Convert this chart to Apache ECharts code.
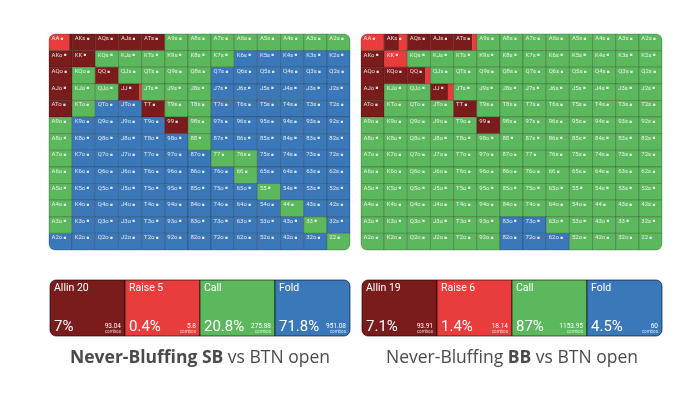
<!DOCTYPE html>
<html>
<head>
<meta charset="utf-8">
<script src="https://cdn.jsdelivr.net/npm/echarts@6/dist/echarts.min.js"></script>
<style>
    html, body { margin: 0; padding: 0; background: #fff; }
    #main { width: 700px; height: 405px; }
</style>
</head>
<body>
<div id="main"></div>
<script>
// 手牌行列 (A..2)
const ranks = ['A', 'K', 'Q', 'J', 'T', '9', '8', '7', '6', '5', '4', '3', '2']
// A = allin, R = raise, C = call, F = fold, M = mixed
const sbRows = [
    'MAAAACCCCCCCC',
    'AACCCCCCFFFFF',
    'ACACCCCFFFFFF',
    'ACCMCCCFFFFFF',
    'ACFFACCFFFFFF',
    'CFFFFACFFFFFF',
    'CFFFFFCFFFFFF',
    'CFFFFFFCCFFFF',
    'CFFFFFFFCFFFF',
    'CFFFFFFFFCFFF',
    'CFFFFFFFFFCFF',
    'CFFFFFFFFFFCF',
    'FFFFFFFFFFFFC'
]
const bbRows = [
    'RMAAMCCCCCCCC',
    'ARCCCCCCCCCCC',
    'AAMCCCCCCCCCC',
    'ACCMCCCCCCCCC',
    'ACCCACCCCCCCC',
    'CCCCCACCCCCCC',
    'CCCCCCCCCCCCC',
    'CCCCCCCCCCCCC',
    'CCCCCCCCCCCCC',
    'CCCCCCCCCCCCC',
    'CCCCCCCCCCCCC',
    'CCCCCCFFCCCCC',
    'CCCCCCFFFCCCC'
]
// 混合策略 [动作, 比例]
const sbMixed = {
    AA: [['R', 0.87], ['A', 0.13]],
    JJ: [['A', 0.9], ['R', 0.1]]
}
const bbMixed = {
    AKs: [['A', 0.63], ['R', 0.37]],
    ATs: [['A', 0.8], ['R', 0.2]],
    QQ: [['A', 0.78], ['R', 0.22]],
    JJ: [['A', 0.75], ['R', 0.25]]
}

// 底部汇总
const actionCodes = ['A', 'R', 'C', 'F']
const sbLabels = ['Allin 20', 'Raise 5', 'Call', 'Fold']
const sbPct = [7, 0.4, 20.8, 71.8]
const sbCombos = ['93.04', '5.8', '275.88', '951.08']
const bbLabels = ['Allin 19', 'Raise 6', 'Call', 'Fold']
const bbPct = [7.1, 1.4, 87, 4.5]
const bbCombos = ['93.91', '18.14', '1153.95', '60']

const colors = { A: '#7b1c1c', R: '#e93d3d', C: '#5cb85c', F: '#3a78b9' }
const FONT = 'Roboto'

const handName = (r, c) => {
    if (r === c) return ranks[r] + ranks[c]
    if (c > r) return ranks[r] + ranks[c] + 's'
    return ranks[c] + ranks[r] + 'o'
}

const makeCellRender = (rows, mixed) => (params, api) => {
    const c = api.value(0)
    const r = api.value(1)
    const ctr = api.coord([c, r])
    const sz = api.size([1, 1])
    const w = sz[0], h = sz[1]
    const x = ctr[0] - w / 2, y = ctr[1] - h / 2
    const R = 6
    const rad = [
        c === 0 && r === 0 ? R : 0,
        c === 12 && r === 0 ? R : 0,
        c === 12 && r === 12 ? R : 0,
        c === 0 && r === 12 ? R : 0
    ]
    const name = handName(r, c)
    const code = rows[r][c]
    const segs = code === 'M' ? mixed[name] : [[code, 1]]
    const children = []
    let sx = x
    segs.forEach((s, i) => {
        const sw = w * s[1]
        const first = i === 0, last = i === segs.length - 1
        children.push({
            type: 'rect',
            shape: { x: sx, y, width: sw + (last ? 0 : 0.3), height: h, r: [first ? rad[0] : 0, last ? rad[1] : 0, last ? rad[2] : 0, first ? rad[3] : 0] },
            style: { fill: colors[s[0]] }
        })
        sx += sw
    })
    children.push({
        type: 'rect',
        shape: { x, y, width: w, height: h, r: rad },
        style: { fill: 'none', stroke: 'rgba(0,0,0,0.28)', lineWidth: 0.8 }
    })
    children.push({
        type: 'text',
        style: {
            text: '{t|' + name + '} {d|\u25A0}',
            x: x + 2.5,
            y: y + 4.5,
            fill: 'rgba(255,255,255,0.85)',
            fontSize: 6,
            fontFamily: FONT,
            align: 'left',
            verticalAlign: 'middle',
            rich: {
                t: { fontSize: 6, fontFamily: FONT, fill: 'rgba(255,255,255,0.85)' },
                d: { fontSize: 4.5, fontFamily: FONT, fill: 'rgba(255,255,255,0.85)' }
            }
        }
    })
    return { type: 'group', children }
}

const makeBarRender = (labels, pcts, combos) => (params, api) => {
    const i = api.value(0)
    const top = api.coord([i, 1])
    const bot = api.coord([i, 0])
    const w = api.size([1, 0])[0]
    const x = top[0] - w / 2, y = top[1], h = bot[1] - top[1]
    const R = 6
    const r = i === 0 ? [R, 0, 0, R] : i === 3 ? [0, R, R, 0] : 0
    return {
        type: 'group',
        children: [
            {
                type: 'rect',
                shape: { x, y, width: w, height: h, r },
                style: { fill: colors[actionCodes[i]], stroke: 'rgba(0,0,0,0.6)', lineWidth: 1 }
            },
            {
                type: 'text',
                style: { text: labels[i], x: x + 4, y: y + 8.5, fill: '#fff', fontSize: 10.5, fontFamily: FONT, verticalAlign: 'middle' }
            },
            {
                type: 'text',
                style: { text: pcts[i] + '%', x: x + 4, y: y + h - 8.5, fill: '#fff', fontSize: 15, fontFamily: FONT, verticalAlign: 'middle' }
            },
            {
                type: 'text',
                style: { text: combos[i], x: x + w - 4, y: y + h - 9.5, fill: '#fff', fontSize: 6.5, fontFamily: FONT, align: 'right', verticalAlign: 'middle' }
            },
            {
                type: 'text',
                style: { text: 'combos', x: x + w - 4, y: y + h - 4, fill: 'rgba(255,255,255,0.75)', fontSize: 4.5, fontFamily: FONT, align: 'right', verticalAlign: 'middle' }
            }
        ]
    }
}

const cellData = []
for (let r = 0; r < 13; r++) {
    for (let c = 0; c < 13; c++) cellData.push([c, r])
}
const barData = actionCodes.map((a, i) => [i, 1])

const hiddenCat = (gridIndex, data, inverse) => ({ gridIndex, type: 'category', data, inverse: !!inverse, show: false })
const hiddenVal = gridIndex => ({ gridIndex, type: 'value', min: 0, max: 1, show: false })

const titleRich = {
    n: { fontSize: 17.5, color: '#4a4a4a', fontFamily: 'Open Sans', fontWeight: 'normal' },
    b: { fontSize: 17.5, color: '#4a4a4a', fontFamily: 'Open Sans', fontWeight: 'bold' }
}

const option = {
    backgroundColor: '#fff',
    animation: false,
    title: [
        {
            text: '{b|Never-Bluffing SB}{n| vs BTN open}',
            left: 200,
            top: 349,
            textAlign: 'center',
            padding: 0,
            textStyle: { fontWeight: 'normal', rich: titleRich }
        },
        {
            text: '{n|Never-Bluffing }{b|BB}{n| vs BTN open}',
            left: 512,
            top: 349,
            textAlign: 'center',
            padding: 0,
            textStyle: { fontWeight: 'normal', rich: titleRich }
        }
    ],
    grid: [
        { left: 49, top: 34, width: 301, height: 216 },
        { left: 361, top: 34, width: 301, height: 216 },
        { left: 50, top: 280, width: 300, height: 56 },
        { left: 362, top: 280, width: 300, height: 56 }
    ],
    xAxis: [
        hiddenCat(0, ranks),
        hiddenCat(1, ranks),
        hiddenCat(2, actionCodes),
        hiddenCat(3, actionCodes)
    ],
    yAxis: [
        hiddenCat(0, ranks, true),
        hiddenCat(1, ranks, true),
        hiddenVal(2),
        hiddenVal(3)
    ],
    series: [
        { type: 'custom', xAxisIndex: 0, yAxisIndex: 0, data: cellData, renderItem: makeCellRender(sbRows, sbMixed) },
        { type: 'custom', xAxisIndex: 1, yAxisIndex: 1, data: cellData, renderItem: makeCellRender(bbRows, bbMixed) },
        { type: 'custom', xAxisIndex: 2, yAxisIndex: 2, data: barData, renderItem: makeBarRender(sbLabels, sbPct, sbCombos) },
        { type: 'custom', xAxisIndex: 3, yAxisIndex: 3, data: barData, renderItem: makeBarRender(bbLabels, bbPct, bbCombos) }
    ]
}

const chart = echarts.init(document.getElementById('main'))
chart.setOption(option)
</script>
</body>
</html>
